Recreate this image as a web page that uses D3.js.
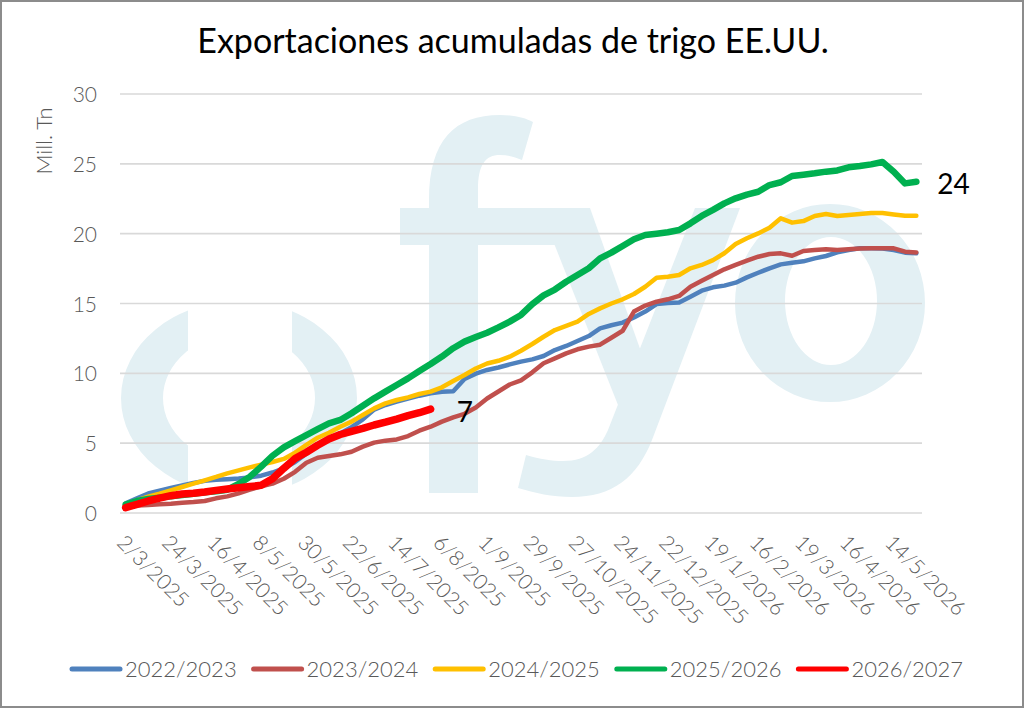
<!DOCTYPE html>
<html><head><meta charset="utf-8">
<script src="https://cdn.jsdelivr.net/npm/d3@7/dist/d3.min.js"></script>
<style>
body{margin:0;background:#fff;}
svg{display:block;font-family:Lato,"Open Sans",sans-serif;}
</style>
</head><body>
<svg id="chart" width="1024" height="708"></svg>
<script>
// ---------- data ----------
const title = "Exportaciones acumuladas de trigo EE.UU.";
const yTitle = "Mill. Tn";
const tickLabels = ["2/3/2025","24/3/2025","16/4/2025","8/5/2025","30/5/2025","22/6/2025","14/7/2025","6/8/2025","1/9/2025","29/9/2025","27/10/2025","24/11/2025","22/12/2025","19/1/2026","16/2/2026","19/3/2026","16/4/2026","14/5/2026"];
const yTicks = [0,5,10,15,20,25,30];
const seriesNames = ["2022/2023","2023/2024","2024/2025","2025/2026","2026/2027"];

const v2022 = [0.7,1.05,1.4,1.6,1.8,1.98,2.15,2.3,2.38,2.42,2.47,2.55,2.67,2.9,3.2,3.65,4.25,4.85,5.3,5.7,6.15,6.7,7.4,7.73,7.97,8.2,8.4,8.57,8.68,8.72,9.6,9.98,10.24,10.42,10.64,10.84,11.0,11.24,11.67,11.96,12.32,12.67,13.22,13.44,13.63,14.0,14.42,14.96,15.04,15.08,15.49,15.92,16.16,16.28,16.49,16.87,17.2,17.52,17.8,17.92,18.02,18.23,18.4,18.66,18.83,18.95,18.95,18.93,18.83,18.64,18.59];
const v2023 = [0.5,0.53,0.57,0.62,0.67,0.74,0.79,0.86,1.05,1.19,1.41,1.67,1.91,2.1,2.45,2.95,3.6,3.96,4.08,4.2,4.39,4.75,5.04,5.18,5.27,5.51,5.89,6.18,6.54,6.85,7.1,7.55,8.2,8.7,9.2,9.5,10.07,10.72,11.07,11.43,11.72,11.91,12.05,12.55,13.05,14.42,14.85,15.13,15.3,15.54,16.2,16.63,17.04,17.45,17.76,18.07,18.35,18.54,18.59,18.42,18.76,18.83,18.88,18.83,18.88,18.93,18.95,18.95,18.95,18.71,18.66];
const v2024 = [0.64,0.9,1.17,1.38,1.62,1.86,2.1,2.34,2.58,2.84,3.05,3.27,3.46,3.65,3.87,4.32,4.87,5.39,5.75,6.18,6.54,7.02,7.49,7.85,8.09,8.28,8.52,8.69,9.0,9.45,9.88,10.35,10.7,10.9,11.19,11.62,12.1,12.62,13.1,13.39,13.7,14.25,14.65,15.0,15.3,15.68,16.2,16.85,16.92,17.04,17.52,17.76,18.11,18.6,19.26,19.67,20.02,20.43,21.1,20.79,20.9,21.27,21.41,21.27,21.34,21.41,21.48,21.48,21.38,21.29,21.29];
const v2025 = [0.6,0.86,1.0,1.1,1.19,1.29,1.38,1.48,1.55,1.67,2.08,2.6,3.32,4.1,4.7,5.15,5.58,6.01,6.42,6.66,7.14,7.68,8.21,8.69,9.16,9.64,10.17,10.67,11.2,11.8,12.27,12.6,12.91,13.29,13.7,14.18,14.96,15.58,16.0,16.56,17.04,17.52,18.23,18.64,19.12,19.6,19.9,20.0,20.1,20.26,20.74,21.27,21.7,22.17,22.53,22.8,23.0,23.48,23.68,24.13,24.22,24.32,24.44,24.53,24.75,24.84,24.96,25.13,24.44,23.6,23.72];
const v2026 = [0.38,0.62,0.86,1.07,1.24,1.36,1.41,1.5,1.62,1.72,1.81,1.89,1.98,2.45,3.2,3.9,4.35,4.85,5.3,5.62,5.85,6.06,6.3,6.5,6.72,6.97,7.18,7.44];
const endLabels = [{series:3, text:"24"},{series:4, text:"7"}];

// ---------- styles ----------
const colors = ["#4f81bd","#c0504d","#ffc000","#00b050","#ff0000"];
const widths = [4.5,4.5,4.5,6.5,7.5];
const allSeries = [v2022,v2023,v2024,v2025,v2026];
const nCats = 71;

const svg = d3.select("#chart");
const W = 1024, H = 708;
svg.append("rect").attr("x",0).attr("y",0).attr("width",W).attr("height",H).attr("fill","#fff");

const plot = {left:120, right:922, top:94, bottom:513};
const x = d3.scaleBand().domain(d3.range(nCats)).range([plot.left, plot.right]);
const xc = i => x(i) + x.bandwidth()/2;
const y = d3.scaleLinear().domain([0,30]).range([plot.bottom, plot.top]);

// ---------- watermark ----------
const wm = svg.append("g").attr("fill","#e3f0f4");
const clip = svg.append("defs").append("clipPath").attr("id","wmclip");
clip.append("rect").attr("x",100).attr("y",280).attr("width",88).attr("height",240);
clip.append("rect").attr("x",292).attr("y",280).attr("width",90).attr("height",240);
function ellipsePath(cx,cy,rx,ry){return `M${cx-rx},${cy} a${rx},${ry} 0 1,0 ${2*rx},0 a${rx},${ry} 0 1,0 ${-2*rx},0 Z`;}
wm.append("path").attr("clip-path","url(#wmclip)").attr("fill-rule","evenodd")
  .attr("d", ellipsePath(239,398,118,97) + ellipsePath(239,398,76,64));
wm.append("path").attr("d","M429,493 L429,200 C429,140 455,115 500,115 C515,115 525,118 533,122 L522,160 C515,157 508,155 500,155 C485,155 478,165 478,190 L478,493 Z");
wm.append("path").attr("d","M400,208 L588,208 L577,245 L400,245 Z");
wm.append("path").attr("d","M540,208 L590,208 L660,405 L618,405 Z");
wm.append("path").attr("d","M695,208 L740,208 L652,440 C637,478 612,497 572,497 C552,497 535,493 518,488 L526,455 C540,459 552,461 563,461 C588,461 600,448 608,430 Z");
wm.append("path").attr("fill-rule","evenodd").attr("d", ellipsePath(830,303,95,99) + ellipsePath(831,301,46,64));

// ---------- gridlines & y axis ----------
const grid = svg.append("g");
grid.selectAll("line").data(yTicks).join("line")
  .attr("x1",plot.left).attr("x2",plot.right)
  .attr("y1",d=>y(d)).attr("y2",d=>y(d))
  .attr("stroke","#d9d9d9").attr("stroke-width",1.6);
svg.append("g").selectAll("text").data(yTicks).join("text")
  .attr("x",97).attr("y",d=>y(d)+8)
  .attr("text-anchor","end").attr("font-size",21).attr("font-weight",300).attr("fill","#595959")
  .text(d=>d);
svg.append("text").attr("transform","translate(52,141) rotate(-90)")
  .attr("text-anchor","middle").attr("font-size",22).attr("font-weight",300).attr("fill","#595959")
  .text(yTitle);

// ---------- x tick labels ----------
svg.append("g").selectAll("text").data(tickLabels).join("text")
  .attr("transform",(d,k)=>`translate(${xc(k*4)-10},544) rotate(45)`)
  .attr("font-size",21).attr("font-weight",300).attr("fill","#595959")
  .text(d=>d);

// ---------- lines ----------
const line = d3.line().x((d,i)=>xc(i)).y(d=>y(d));
svg.append("g").selectAll("path").data(allSeries).join("path")
  .attr("d",d=>line(d)).attr("fill","none")
  .attr("stroke",(d,k)=>colors[k]).attr("stroke-width",(d,k)=>widths[k])
  .attr("stroke-linejoin","round").attr("stroke-linecap","round");

// ---------- end labels ----------
svg.append("g").selectAll("text").data(endLabels).join("text")
  .attr("x",d=>{const s=allSeries[d.series];return xc(s.length-1)+ (d.text.length>1?21:26);})
  .attr("y",d=>{const s=allSeries[d.series];return y(s[s.length-1])+12.5;})
  .attr("font-size",28).attr("fill","#000").text(d=>d.text);

// ---------- title ----------
svg.append("text").attr("x",513).attr("y",53).attr("text-anchor","middle")
  .attr("font-size",34).attr("fill","#000").text(title);

// ---------- legend ----------
const leg = svg.append("g").selectAll("g").data(seriesNames).join("g")
  .attr("transform",(d,k)=>`translate(${70+k*181.6},669)`);
leg.append("line").attr("x1",2).attr("x2",50).attr("y1",0).attr("y2",0)
  .attr("stroke",(d,k)=>colors[k]).attr("stroke-width",5).attr("stroke-linecap","round");
leg.append("text").attr("x",55).attr("y",8).attr("font-size",22).attr("font-weight",300).attr("fill","#595959").text(d=>d);

// ---------- frame ----------
svg.append("rect").attr("x",1).attr("y",1).attr("width",W-2).attr("height",H-2)
  .attr("fill","none").attr("stroke","#8c8c8c").attr("stroke-width",2);
</script>
</body></html>
